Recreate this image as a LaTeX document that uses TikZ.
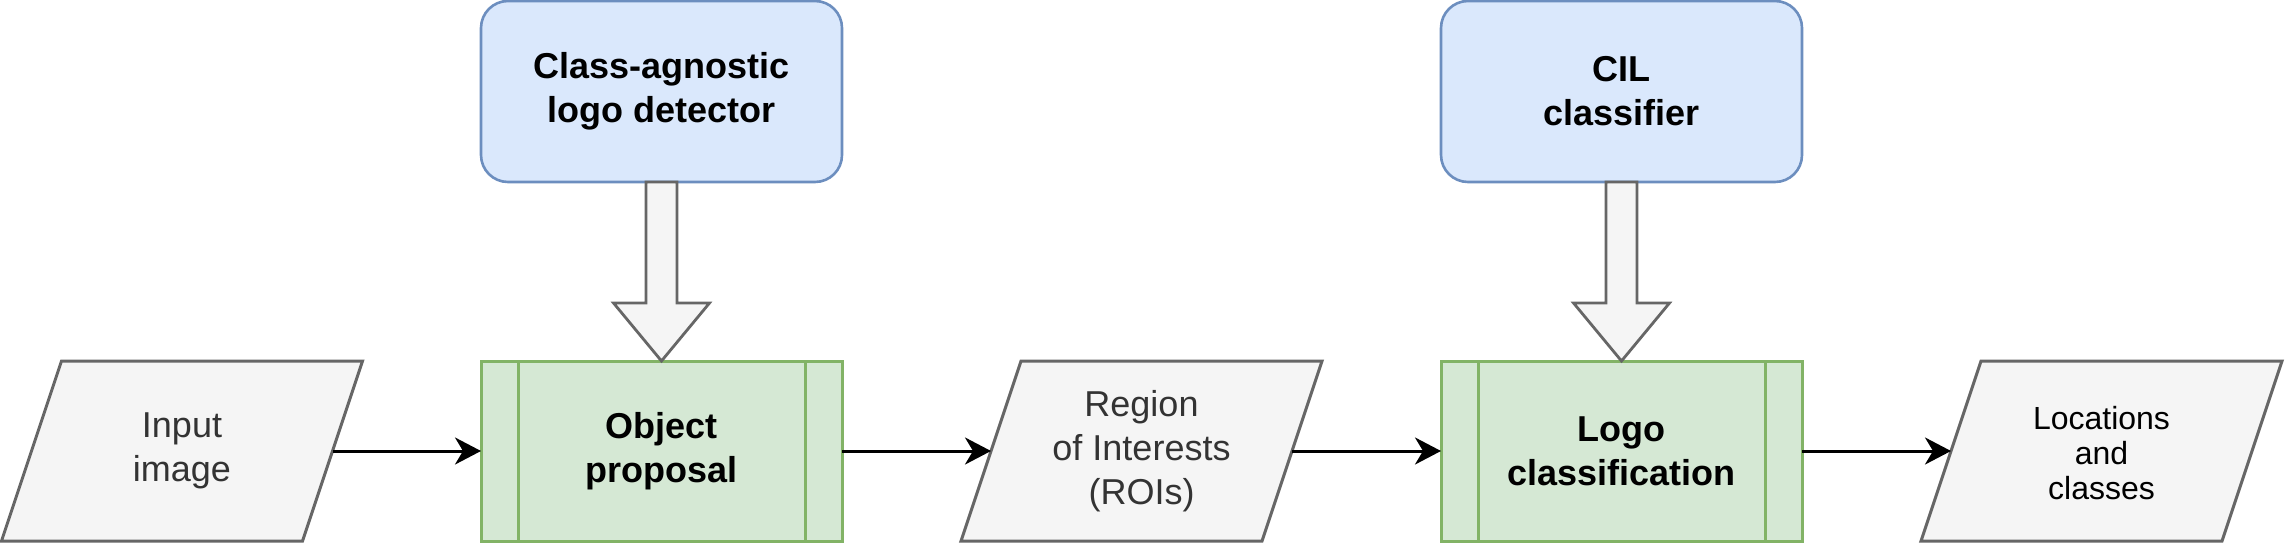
\documentclass[tikz,border=0pt]{standalone}
\usepackage{fontspec}
\setmainfont{Liberation Sans}
\usetikzlibrary{arrows.meta,backgrounds}
\definecolor{grayfill}{HTML}{F5F5F5}
\definecolor{graystroke}{HTML}{666666}
\definecolor{graytext}{HTML}{333333}
\definecolor{greenfill}{HTML}{D5E8D4}
\definecolor{greenstroke}{HTML}{82B366}
\definecolor{bluefill}{HTML}{DAE8FC}
\definecolor{bluestroke}{HTML}{6C8EBF}
\tikzset{
  base/.style={inner sep=0pt, outer sep=0pt, align=center, minimum width=361pt},
  iobox/.style={base, minimum height=180pt, text=graytext, font=\fontsize{36}{44}\selectfont},
  ioshape/.style={fill=grayfill, draw=graystroke, line width=3pt, line join=miter},
  procbox/.style={base, minimum height=180pt, fill=greenfill, draw=greenstroke, line width=3pt, font=\bfseries\fontsize{36}{44}\selectfont},
  procline/.style={draw=greenstroke, line width=3pt},
  modelbox/.style={base, minimum height=181pt, fill=bluefill, draw=bluestroke, line width=2.6pt, rounded corners=27pt, font=\bfseries\fontsize{36}{44}\selectfont},
  blockarrow/.style={fill=grayfill, draw=graystroke, line width=2.8pt, line join=miter},
  conn/.style={line width=3pt, -{Stealth[length=26pt, width=27pt, inset=8pt]}},
}
\begin{document}
\begin{tikzpicture}[x=1pt, y=-1pt]
\useasboundingbox (0,0) rectangle (2286,543);
% nodes
\node[iobox] (in) at (182,451) {Input\\image};
\node[procbox] (op) at (661.5,451) {Object\\proposal};
\node[iobox] (roi) at (1141.5,451) {Region\\of Interests\\(ROIs)};
\node[procbox] (lc) at (1621.5,451) {Logo\\classification};
\node[iobox, text=black, font=\fontsize{32}{35}\selectfont] (out) at (2101.5,453) {Locations\\and\\classes};
\node[modelbox] (det) at (661.5,91.5) {Class-agnostic\\logo detector};
\node[modelbox] (cil) at (1621.5,91.5) {CIL\\classifier};
% parallelogram outlines
\begin{scope}[on background layer]
\foreach \n in {in,roi} {
  \draw[ioshape] ([xshift=60pt]\n.north west) -- (\n.north east) -- ([xshift=-60pt]\n.south east) -- (\n.south west) -- cycle;
}
\draw[ioshape] ([xshift=60pt,yshift=2pt]out.north west) -- ([yshift=2pt]out.north east) -- ([xshift=-60pt,yshift=2pt]out.south east) -- ([yshift=2pt]out.south west) -- cycle;
\end{scope}
% process side bars
\foreach \n in {op,lc} {
  \draw[procline] ([xshift=37pt]\n.north west) -- ([xshift=37pt]\n.south west);
  \draw[procline] ([xshift=-37pt]\n.north east) -- ([xshift=-37pt]\n.south east);
}
% block arrows
\foreach \a/\b in {det/op,cil/lc} {
  \draw[blockarrow] ([xshift=-15.5pt]\a.south) -- ++(0,121) -- ++(-32.5,0) -- (\b.north) -- ++(48,-58) -- ++(-32.5,0) -- ([xshift=15.5pt]\a.south) -- cycle;
}
% connectors
\draw[conn] ([xshift=-30pt]in.east) -- (op.west);
\draw[conn] (op.east) -- ([xshift=30pt]roi.west);
\draw[conn] ([xshift=-30pt]roi.east) -- (lc.west);
\draw[conn] (lc.east) -- ([xshift=30pt,yshift=2pt]out.west);
\end{tikzpicture}
\end{document}
